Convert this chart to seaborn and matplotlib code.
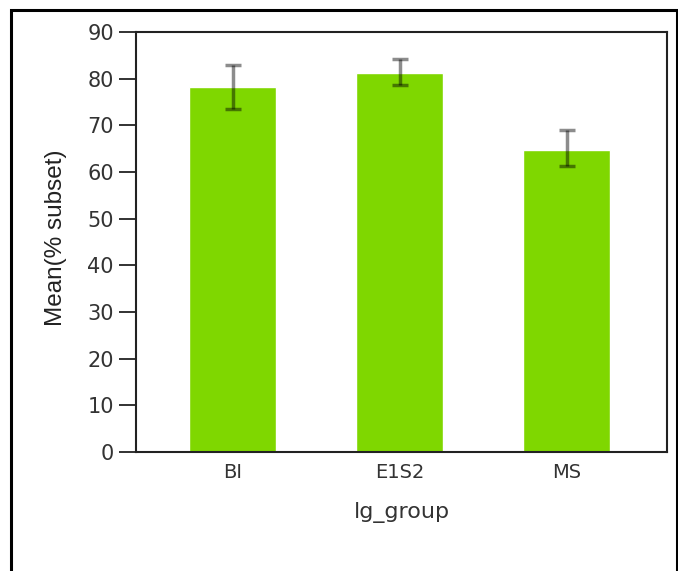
import matplotlib
matplotlib.use("Agg")
import matplotlib.pyplot as plt
import seaborn as sns
import pandas as pd
from matplotlib.patches import Rectangle

# data
groups = ["BI", "E1S2", "MS"]
means = [78.2, 81.2, 64.8]
err_low = [73.4, 78.6, 61.3]
err_high = [82.9, 84.2, 69.0]

BAR_COLOUR = "#7fd700"

sns.set_style("white")
plt.rcParams["font.family"] = ["DejaVu Sans"]

df = pd.DataFrame({"lg_group": groups, "mean": means})

fig = plt.figure(figsize=(6.78, 5.71), dpi=100)
ax = fig.add_axes([136 / 678, 1 - 452 / 571, (667 - 136) / 678, (452 - 32) / 571])

sns.barplot(data=df, x="lg_group", y="mean", color=BAR_COLOUR, width=0.52,
            saturation=1, errorbar=None, ax=ax)

# error bars
yerr = [[m - lo for m, lo in zip(means, err_low)],
        [hi - m for m, hi in zip(means, err_high)]]
ax.errorbar(range(len(groups)), means, yerr=yerr, fmt="none",
            ecolor="black", alpha=0.45, elinewidth=2.5, capsize=5.5, capthick=2.5)

ax.set_xlim(-0.58, 2.6)
ax.set_ylim(0, 90)
ax.set_yticks(range(0, 91, 10))

for side in ["left", "right", "top", "bottom"]:
    ax.spines[side].set_visible(True)
    ax.spines[side].set_color("#222222")
    ax.spines[side].set_linewidth(1.5)

ax.tick_params(axis="y", direction="out", length=12, width=1.3,
               labelsize=15, labelcolor="#333333", color="#222222", pad=4, left=True)
ax.tick_params(axis="x", length=0, labelsize=14, labelcolor="#333333", pad=8)

ax.set_xlabel("lg_group", fontsize=16, color="#333333", labelpad=14)
ax.set_ylabel("Mean(% subset)", fontsize=17.5, color="#222222",
              family="Liberation Sans")
ax.yaxis.set_label_coords((67 - 136) / 531, (452 - 238) / 420)

# outer frame around the figure (open at the bottom)
fig.patches.append(Rectangle((11 / 678, -0.1), (677 - 11) / 678, 1.1 - 10 / 571,
                             transform=fig.transFigure, fill=False,
                             edgecolor="black", linewidth=2.2))

fig.savefig("out.png", dpi=100)
plt.close(fig)
